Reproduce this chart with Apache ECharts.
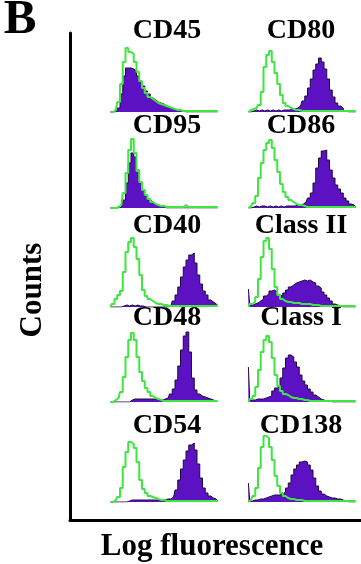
<!DOCTYPE html>
<html><head><meta charset="utf-8">
<script src="https://cdn.jsdelivr.net/npm/echarts@6/dist/echarts.min.js"></script>
<style>html,body{margin:0;padding:0;background:#fff}#c{width:361px;height:564px}</style>
</head><body><div id="c"></div>
<script>
// fluorescence channels (bins) shared by all panels
const channels = [0,1,2,3,4,5,6,7,8,9,10,11,12,13,14,15,16,17,18,19,20,21,22,23,24,25,26,27,28,29,30,31,32,33,34,35,36,37,38,39];
const titles = ['CD45','CD80','CD95','CD86','CD40','Class II','CD48','Class I','CD54','CD138'];

// green = isotype control (outline), purple = stained (filled)
const cd45Iso   = [0,0,2,10,28,50,64,60,58,50,40,31,24,19,15,13,11,9,8,7,6,5,4,3,2,2,1,1,1,1,1,1,1,1,1,1,1,1,1,1];
const cd45Stain = [0,0,0,4,18,36,44,44,43,41,36,31,26,21,18,14,12,10,9,8,6,5,4,3,2,2,1,0,0,0,0,0,0,0,0,0,0,0,0,0];
const cd80Iso   = [0,2,3,4,7,20,45,57,61,50,39,28,17,9,6,4,3,2,2,1,1,1,1,1,1,1,1,1,1,1,1,1,1,1,1,1,1,1,1,1];
const cd80Stain = [0,0,1,2,1,2,1,2,1,2,1,2,1,2,2,2,3,3,4,6,11,16,24,33,42,48,54,50,43,33,22,15,9,6,4,1,0,0,0,0];
const cd95Iso   = [0,0,0,1,3,15,35,58,69,55,37,26,18,13,9,6,4,3,2,2,1,1,1,1,1,1,1,3,1,1,1,1,1,1,1,1,1,1,1,1];
const cd95Stain = [0,0,0,0,1,8,25,45,55,51,38,26,18,12,8,6,4,3,2,1,0,0,0,0,0,0,0,0,0,0,0,0,0,0,0,0,0,0,0,0];
const cd86Iso   = [0,2,5,12,30,45,58,65,68,60,48,36,24,16,11,8,6,4,3,3,2,1,1,1,1,1,1,1,1,1,1,1,1,1,1,1,1,1,1,1];
const cd86Stain = [0,0,1,2,1,2,2,1,2,1,2,1,2,1,2,2,2,2,3,3,4,6,10,15,25,40,50,57,58,48,38,30,23,19,15,10,7,4,3,1];
const cd40Iso   = [0,3,8,12,16,35,55,65,69,60,48,32,17,11,8,6,4,3,3,2,2,1,1,1,1,1,1,1,1,1,1,1,1,1,1,1,1,1,1,1];
const cd40Stain = [0,0,0,0,0,1,2,1,2,1,2,1,1,0,0,0,0,0,0,0,0,0,1,6,12,20,30,40,47,52,54,44,32,23,16,12,7,5,3,2];
const classIIIso   = [0,3,5,10,28,50,66,69,58,38,20,12,8,6,5,5,4,4,4,3,3,3,3,2,2,2,1,1,1,1,1,1,1,1,1,1,1,1,1,1];
const classIIStain = [18,2,3,4,6,8,11,13,16,17,15,12,11,14,17,20,22,24,25,26,27,26,27,25,24,21,19,15,12,9,6,3,2,1,0,0,0,0,0,0];
const cd48Iso   = [0,0,2,4,10,25,45,62,69,62,45,30,21,14,10,6,4,3,2,1,1,1,1,1,1,1,1,1,1,1,1,1,1,1,1,1,1,1,1,1];
const cd48Stain = [0,0,0,0,0,0,0,0,2,3,3,3,3,3,3,3,3,3,2,2,3,4,8,13,22,36,52,66,70,50,24,12,8,6,5,4,3,2,1,0];
const classIIso   = [0,3,6,15,32,50,62,66,60,44,27,16,11,8,7,5,4,4,3,3,2,2,1,1,1,1,1,1,1,1,1,1,1,1,1,1,1,1,1,1];
const classIStain = [35,2,2,3,3,3,4,5,6,11,14,15,24,34,44,47,45,40,35,27,21,17,13,10,7,5,3,2,1,1,0,0,0,0,0,0,0,0,0,0];
const cd54Iso   = [0,0,2,5,14,35,50,60,58,54,40,22,13,9,6,5,4,3,2,2,1,1,1,1,1,1,1,1,1,1,1,1,1,1,1,1,1,1,1,1];
const cd54Stain = [0,0,0,0,0,0,0,1,2,2,2,2,2,2,2,2,2,2,2,2,2,3,3,5,12,22,33,42,51,57,59,52,38,24,14,9,6,4,3,1];
const cd138Iso   = [0,2,6,14,34,55,66,64,55,42,26,16,9,6,4,3,3,2,2,2,1,1,1,1,1,1,1,1,1,1,1,1,1,1,1,1,1,1,1,1];
const cd138Stain = [19,1,2,2,3,3,4,5,6,7,7,7,8,10,14,19,27,33,37,40,41,40,37,32,24,16,11,8,6,5,4,4,3,3,2,1,0,0,0,0];

const isoSets   = [cd45Iso, cd80Iso, cd95Iso, cd86Iso, cd40Iso, classIIIso, cd48Iso, classIIso, cd54Iso, cd138Iso];
const stainSets = [cd45Stain, cd80Stain, cd95Stain, cd86Stain, cd40Stain, classIIStain, cd48Stain, classIStain, cd54Stain, cd138Stain];

// layout
const rowBase = [112, 208, 307, 402, 502];
const titleY  = [31, 126, 226, 318, 426];
const colLeft = [109, 247];
const colCenter = [167, 301];
const PH = 72;
const PURPLE = '#5c12c2', EDGE = '#1c0a3c', GREEN = '#3fe63f';
const SERIF = '"Liberation Serif","DejaVu Serif",serif';

const grid = [{left:70, top:33, width:291, height:487}];
const xAxis = [{gridIndex:0, type:'value', min:0, max:1, axisLine:{show:true, onZero:false, lineStyle:{color:'#000', width:3}}, axisTick:{show:false}, axisLabel:{show:false}, splitLine:{show:false}}];
const yAxis = [{gridIndex:0, type:'value', min:0, max:1, axisLine:{show:true, onZero:false, lineStyle:{color:'#000', width:3}}, axisTick:{show:false}, axisLabel:{show:false}, splitLine:{show:false}}];
const series = [];
const graphic = [];

for (let i = 0; i < 10; i++) {
  const r = Math.floor(i / 2), c = i % 2;
  const g = i + 1;
  grid.push({left: colLeft[c], width: 110, top: rowBase[r] - PH, height: PH});
  xAxis.push({gridIndex: g, type: 'category', data: channels, show: false, boundaryGap: true});
  yAxis.push({gridIndex: g, type: 'value', min: 0, max: PH, show: false});
  series.push({type:'line', xAxisIndex:g, yAxisIndex:g, data: stainSets[i], step:'middle', symbol:'none',
    lineStyle:{color:EDGE, width:1}, areaStyle:{color:PURPLE, opacity:1}, z:2, silent:true});
  series.push({type:'line', xAxisIndex:g, yAxisIndex:g, data: isoSets[i], step:'middle', symbol:'none',
    lineStyle:{color:GREEN, width:2}, z:3, silent:true});
  graphic.push({type:'text', x: colCenter[c], y: titleY[r], style:{text: titles[i], font:'bold 28px ' + SERIF,
    textAlign:'center', textVerticalAlign:'middle', verticalAlign:'middle', fill:'#000'}});
}
graphic.push({type:'text', x:20, y:20, style:{text:'B', font:'bold 49px ' + SERIF, textAlign:'center', textVerticalAlign:'middle', verticalAlign:'middle', fill:'#000'}});
graphic.push({type:'text', x:33, y:290, rotation: Math.PI/2, style:{text:'Counts', font:'bold 31px ' + SERIF, textAlign:'center', textVerticalAlign:'middle', verticalAlign:'middle', fill:'#000'}});
graphic.push({type:'text', x:212, y:547, style:{text:'Log fluorescence', font:'bold 31px ' + SERIF, textAlign:'center', textVerticalAlign:'middle', verticalAlign:'middle', fill:'#000'}});

const chart = echarts.init(document.getElementById('c'), null, {renderer:'canvas'});
chart.setOption({animation:false, backgroundColor:'#fff', grid, xAxis, yAxis, series, graphic});
</script>
</body></html>
